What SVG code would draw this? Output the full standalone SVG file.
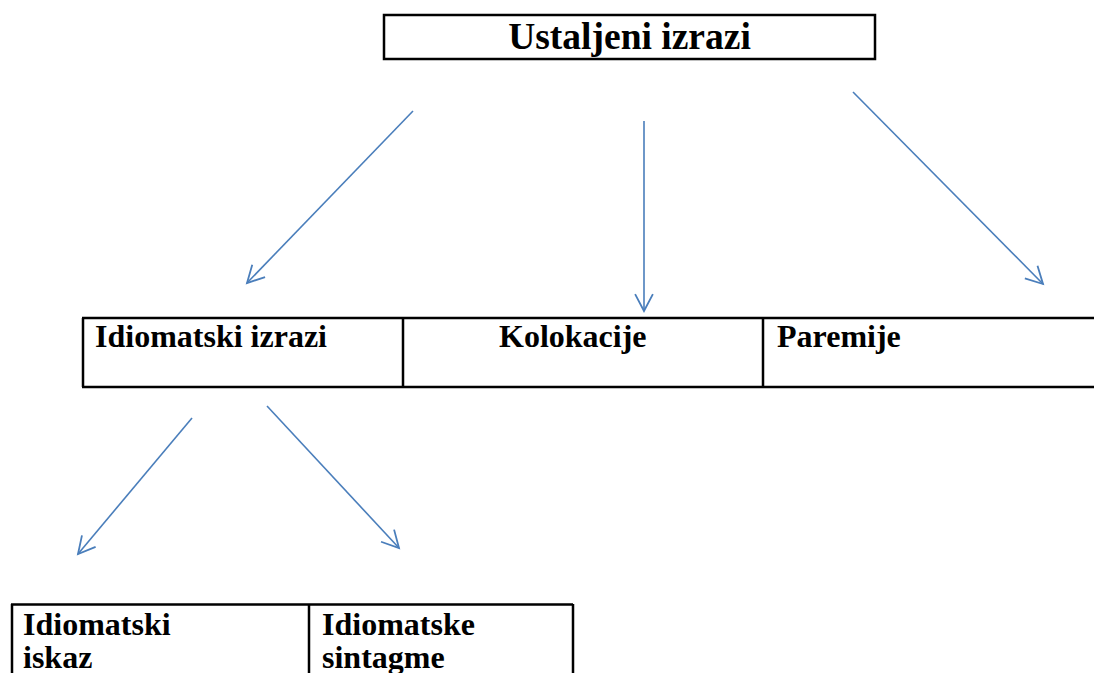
<svg xmlns="http://www.w3.org/2000/svg" width="1094" height="673" viewBox="0 0 1094 673">
<style>
.box{fill:#fff;stroke:#000;stroke-width:2.5}
.ln{stroke:#000;stroke-width:2.5;fill:none}
.t{font-family:"Liberation Serif","Times New Roman",serif;font-weight:bold;fill:#000}
.conn{stroke:#4a7ebb;stroke-width:1.6;fill:none;marker-end:url(#ah)}
</style>
<defs>
<marker id="ah" markerUnits="userSpaceOnUse" markerWidth="40" markerHeight="40" refX="0" refY="0" viewBox="-20 -20 40 40" orient="auto" overflow="visible">
<path d="M -16.8 -8.9 L 0 0 L -16.8 8.9" fill="none" stroke="#4a7ebb" stroke-width="1.8"/>
</marker>
</defs>
<rect width="1094" height="673" fill="#fff"/>
<g id="ustaljeni">
<rect class="box" x="384" y="15" width="491" height="44"/>
<text class="t" x="629.5" y="49" font-size="37.5" text-anchor="middle">Ustaljeni izrazi</text>
</g>
<g id="row-mid">
<path class="ln" d="M82 318 H1094 M82 387 H1094 M83 318 V387 M403 318 V387 M763 318 V387"/>
</g>
<g id="idiomatski-izrazi">
<text class="t" x="95" y="347" font-size="32">Idiomatski izrazi</text>
</g>
<g id="kolokacije">
<text class="t" x="499" y="347" font-size="32">Kolokacije</text>
</g>
<g id="paremije">
<text class="t" x="777" y="347" font-size="32">Paremije</text>
</g>
<g id="row-bottom">
<path class="ln" d="M11 604.5 H573 M12 604 V673 M309 604 V673 M573 604 V673"/>
</g>
<g id="idiomatski-iskaz">
<text class="t" x="23" y="635" font-size="32">Idiomatski</text>
<text class="t" x="23" y="668" font-size="32">iskaz</text>
</g>
<g id="idiomatske-sintagme">
<text class="t" x="322" y="635" font-size="32">Idiomatske</text>
<text class="t" x="322" y="668" font-size="32">sintagme</text>
</g>
<g id="connectors">
<line class="conn" x1="413" y1="111" x2="247" y2="283"/>
<line class="conn" x1="644" y1="121" x2="644" y2="311"/>
<line class="conn" x1="853" y1="92" x2="1043" y2="284"/>
<line class="conn" x1="192" y1="418" x2="78" y2="554"/>
<line class="conn" x1="267" y1="406" x2="399" y2="548"/>
</g>
</svg>
